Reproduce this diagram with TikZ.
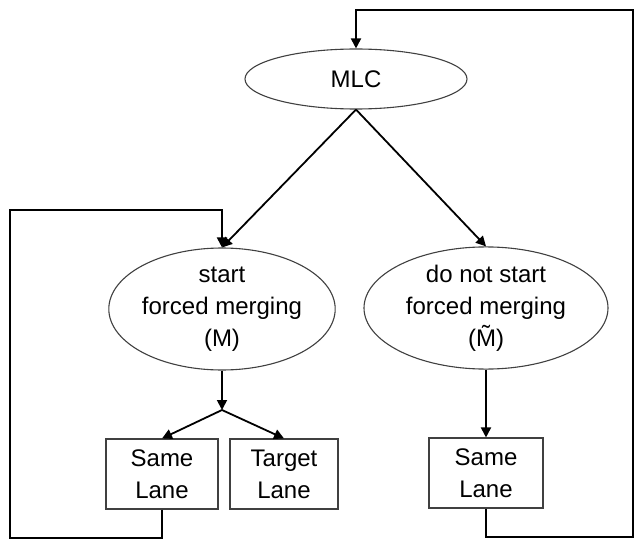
\documentclass[tikz,border=0pt]{standalone}
\usepackage{fontspec}
\setmainfont{Liberation Sans}
\usetikzlibrary{shapes.geometric,arrows.meta}
\begin{document}
\begin{tikzpicture}[x=1pt,y=-1pt,
  lbl/.style={font=\fontsize{24}{32}\selectfont, align=center, inner sep=0pt},
  oval/.style={lbl, ellipse, draw=black!75, line width=1.1pt},
  lanebox/.style={lbl, rectangle, draw=black!75, line width=1.1pt},
  arr/.style={draw=black, line width=1.8pt, -{Triangle[length=10pt,width=10pt]}},
  conn/.style={draw=black, line width=1.8pt}]
\useasboundingbox (0,0) rectangle (637,540);

% decision ovals
\node[oval, minimum width=222pt, minimum height=60pt] (mlc) at (356,79) {MLC};
\node[oval, minimum width=224pt, minimum height=122pt] (sfm) at (222,309)
  {start\\forced merging\\(M)};
\node[oval, minimum width=244pt, minimum height=120pt] (dns) at (486,308)
  {do not start\\forced merging\\(\~{M})};

% lane outcomes
\node[lanebox, minimum width=112pt, minimum height=70pt] (ls) at (162,474) {Same\\Lane};
\node[lanebox, minimum width=108pt, minimum height=70pt] (tl) at (284,474) {Target\\Lane};
\node[lanebox, minimum width=114pt, minimum height=70pt] (rs) at (486,473) {Same\\Lane};

% helper points for the feedback loops and the split
\coordinate (split) at (222,410);
\coordinate (lloopB) at (10,538);
\coordinate (lloopT) at (10,210);
\coordinate (rloopB) at (633,537);
\coordinate (rloopT) at (633,10);

% main flow
\draw[arr] (mlc.south) -- (sfm.north);
\draw[arr] (mlc.south) -- (dns.north);
\draw[arr] (sfm.south) -- (split);
\draw[arr] (split) -- (ls.north);
\draw[arr] (split) -- (tl.north);
\draw[arr] (dns.south) -- (rs.north);

% feedback loops
\draw[arr] (ls.south) |- (lloopB) -- (lloopT) -| (sfm.north);
\draw[arr] (rs.south) |- (rloopB) -- (rloopT) -| (mlc.north);
\end{tikzpicture}
\end{document}
